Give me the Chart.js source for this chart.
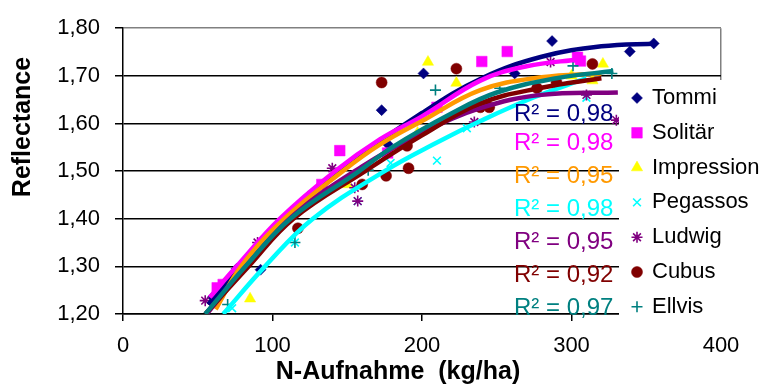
<!DOCTYPE html>
<html>
<head>
<meta charset="utf-8">
<script src="https://cdn.jsdelivr.net/npm/chart.js@4/dist/chart.umd.min.js"></script>
<style>
  html, body { margin: 0; padding: 0; background: #fff; }
</style>
</head>
<body>
<canvas id="chart" width="761" height="384"></canvas>
<script>
// measured values (x = N-Aufnahme kg/ha, y = reflectance)
const varieties = ['Tommi', 'Solitär', 'Impression', 'Pegassos', 'Ludwig', 'Cubus', 'Ellvis'];
const r2Values = ['0,98', '0,98', '0,95', '0,98', '0,95', '0,92', '0,97'];
const xTicks = [0, 100, 200, 300, 400];
const yTicks = [1.2, 1.3, 1.4, 1.5, 1.6, 1.7, 1.8];

const tommi = [[60,1.235],[76,1.295],[92,1.293],[124,1.447],[173,1.628],[177,1.557],[201,1.705],[262,1.705],[287,1.773],[339,1.751],[355,1.768]];
const solitaer = [[63,1.255],[67,1.262],[133,1.472],[145,1.543],[177,1.538],[210,1.634],[240,1.730],[257,1.751],[304,1.739],[306,1.731]];
const impression = [[85,1.232],[150,1.472],[197,1.580],[204,1.729],[223,1.685],[300,1.700],[314,1.690],[321,1.725]];
const pegassos = [[73,1.212],[115,1.350],[157,1.437],[179,1.517],[210,1.522],[230,1.590],[310,1.654]];
const ludwig = [[55,1.228],[90,1.350],[140,1.506],[155,1.465],[157,1.437],[235,1.603],[286,1.729],[310,1.660],[330,1.607]];
const cubus = [[117,1.380],[160,1.472],[173,1.686],[176,1.490],[190,1.553],[191,1.506],[223,1.715],[239,1.634],[245,1.634],[277,1.674],[290,1.686],[314,1.725]];
const ellvis = [[70,1.220],[115,1.350],[164,1.502],[209,1.670],[252,1.674],[301,1.721],[327,1.705]];

// trend lines (2nd order polynomial)
const tommiTrend = [[57,1.22],[100,1.37],[150,1.51],[200,1.622],[240,1.695],[280,1.74],[320,1.762],[357,1.768]];
const solitaerTrend = [[58,1.235],[76,1.30],[105,1.40],[142,1.50],[172,1.567],[200,1.615],[239,1.69],[270,1.72],[306,1.735]];
const impressionTrend = [[62,1.21],[79,1.30],[108,1.40],[147,1.50],[172,1.556],[200,1.605],[239,1.67],[280,1.697],[320,1.705]];
const pegassosTrend = [[67,1.20],[95,1.30],[127,1.40],[175,1.50],[210,1.56],[239,1.605],[275,1.655],[310,1.695]];
const ludwigTrend = [[56,1.20],[85,1.31],[115,1.41],[160,1.51],[200,1.58],[239,1.632],[280,1.66],[331,1.665]];
const cubusTrend = [[55,1.20],[84,1.30],[114,1.40],[162,1.50],[200,1.575],[239,1.642],[280,1.675],[320,1.695]];
const ellvisTrend = [[55,1.20],[82,1.30],[112,1.40],[158,1.50],[180,1.55],[219,1.62],[250,1.665],[290,1.695],[328,1.71]];

const points = [tommi, solitaer, impression, pegassos, ludwig, cubus, ellvis];
const trends = [tommiTrend, solitaerTrend, impressionTrend, pegassosTrend, ludwigTrend, cubusTrend, ellvisTrend];

// styles
const markerColors = ['#000080', '#FF00FF', '#FFFF00', '#00FFFF', '#800080', '#800000', '#008080'];
const lineColors = ['#000080', '#FF00FF', '#FF9900', '#00FFFF', '#800080', '#800000', '#008080'];
const markerStyles = ['rectRot', 'rect', 'triangle', 'crossRot', 'star', 'circle', 'cross'];
const markerRadius = [5.5, 7.5, 6.5, 5.5, 5.5, 5.5, 5.5];
const lineMarkers = ['crossRot', 'star', 'cross'];

const FONT = '"Liberation Sans", Arial, sans-serif';
const toXY = arr => arr.map(p => ({ x: p[0], y: p[1] }));

const datasets = [];
varieties.forEach((name, i) => {
  const thin = lineMarkers.includes(markerStyles[i]);
  datasets.push({
    type: 'scatter',
    label: name,
    data: toXY(points[i]),
    pointStyle: markerStyles[i],
    pointRadius: markerRadius[i],
    pointHoverRadius: markerRadius[i],
    backgroundColor: markerColors[i],
    borderColor: markerColors[i],
    pointBorderWidth: thin ? 1.6 : 0.5,
    order: 30 - i
  });
});
varieties.forEach((name, i) => {
  datasets.push({
    type: 'line',
    label: name + ' trend',
    data: toXY(trends[i]),
    borderColor: lineColors[i],
    borderWidth: 4.5,
    pointRadius: 0,
    fill: false,
    tension: 0.4,
    order: 10 - i
  });
});

// label anchors of the R² texts, in data units
const r2Anchor = { x: 328, y: [1.62, 1.559, 1.488, 1.419, 1.35, 1.281, 1.212] };

const overlay = {
  id: 'overlay',
  afterDraw(chart) {
    const ctx = chart.ctx;
    const xs = chart.scales.x, ys = chart.scales.y;
    ctx.save();

    // R² texts
    ctx.font = '24px ' + FONT;
    ctx.textAlign = 'right';
    ctx.textBaseline = 'middle';
    r2Values.forEach((v, i) => {
      ctx.fillStyle = lineColors[i];
      ctx.fillText('R² = ' + v, xs.getPixelForValue(r2Anchor.x), ys.getPixelForValue(r2Anchor.y[i]));
    });

    // legend box sitting over the plot area
    const lx = 619, ly = 80;
    ctx.fillStyle = '#fff';
    ctx.fillRect(lx, ly, chart.width - lx, 246);
    ctx.font = '22px ' + FONT;
    ctx.textAlign = 'left';
    varieties.forEach((name, i) => {
      const y = 98 + i * 34.8;
      const thin = lineMarkers.includes(markerStyles[i]);
      ctx.fillStyle = markerColors[i];
      ctx.strokeStyle = markerColors[i];
      ctx.lineWidth = thin ? 1.6 : 0.5;
      Chart.helpers.drawPoint(ctx, { pointStyle: markerStyles[i], radius: markerRadius[i], rotation: 0, borderWidth: ctx.lineWidth }, 637, y);
      ctx.fillStyle = '#000';
      ctx.fillText(name, 652, y);
    });

    // axis titles
    ctx.fillStyle = '#000';
    ctx.font = 'bold 25px ' + FONT;
    ctx.textAlign = 'center';
    ctx.fillText('N-Aufnahme  (kg/ha)', 398, 372);
    ctx.translate(23, 127);
    ctx.rotate(-Math.PI / 2);
    ctx.fillText('Reflectance', 0, 0);
    ctx.restore();
  }
};

new Chart(document.getElementById('chart'), {
  type: 'scatter',
  data: { datasets },
  plugins: [overlay],
  options: {
    responsive: false,
    animation: false,
    layout: { padding: { top: 18, right: 40, left: 0, bottom: 0 } },
    plugins: { legend: { display: false }, tooltip: { enabled: false } },
    scales: {
      x: {
        type: 'linear',
        min: xTicks[0],
        max: xTicks[xTicks.length - 1],
        afterBuildTicks: s => { s.ticks = xTicks.map(v => ({ value: v })); },
        afterFit: s => { s.height = 70; },
        ticks: { font: { family: FONT, size: 22 }, color: '#000', padding: 12, maxRotation: 0 },
        grid: {
          color: c => (c.tick && c.tick.value === 400 ? '#808080' : 'rgba(0,0,0,0)'),
          lineWidth: 1.5,
          tickColor: '#000',
          tickLength: 7,
          tickWidth: 1.5
        },
        border: { color: '#000', width: 1.5 }
      },
      y: {
        type: 'linear',
        min: yTicks[0],
        max: yTicks[yTicks.length - 1],
        afterBuildTicks: s => { s.ticks = yTicks.map(v => ({ value: v })); },
        afterFit: s => { s.width = 123; },
        ticks: {
          font: { family: FONT, size: 22 },
          color: '#000',
          padding: 15,
          callback: v => v.toFixed(2).replace('.', ',')
        },
        grid: {
          color: c => (c.tick && Math.abs(c.tick.value - 1.8) < 1e-6 ? '#808080' : '#000'),
          lineWidth: 1.5,
          tickColor: '#000',
          tickLength: 8,
          tickWidth: 1.5
        },
        border: { color: '#000', width: 1.5 }
      }
    }
  }
});
</script>
</body>
</html>
